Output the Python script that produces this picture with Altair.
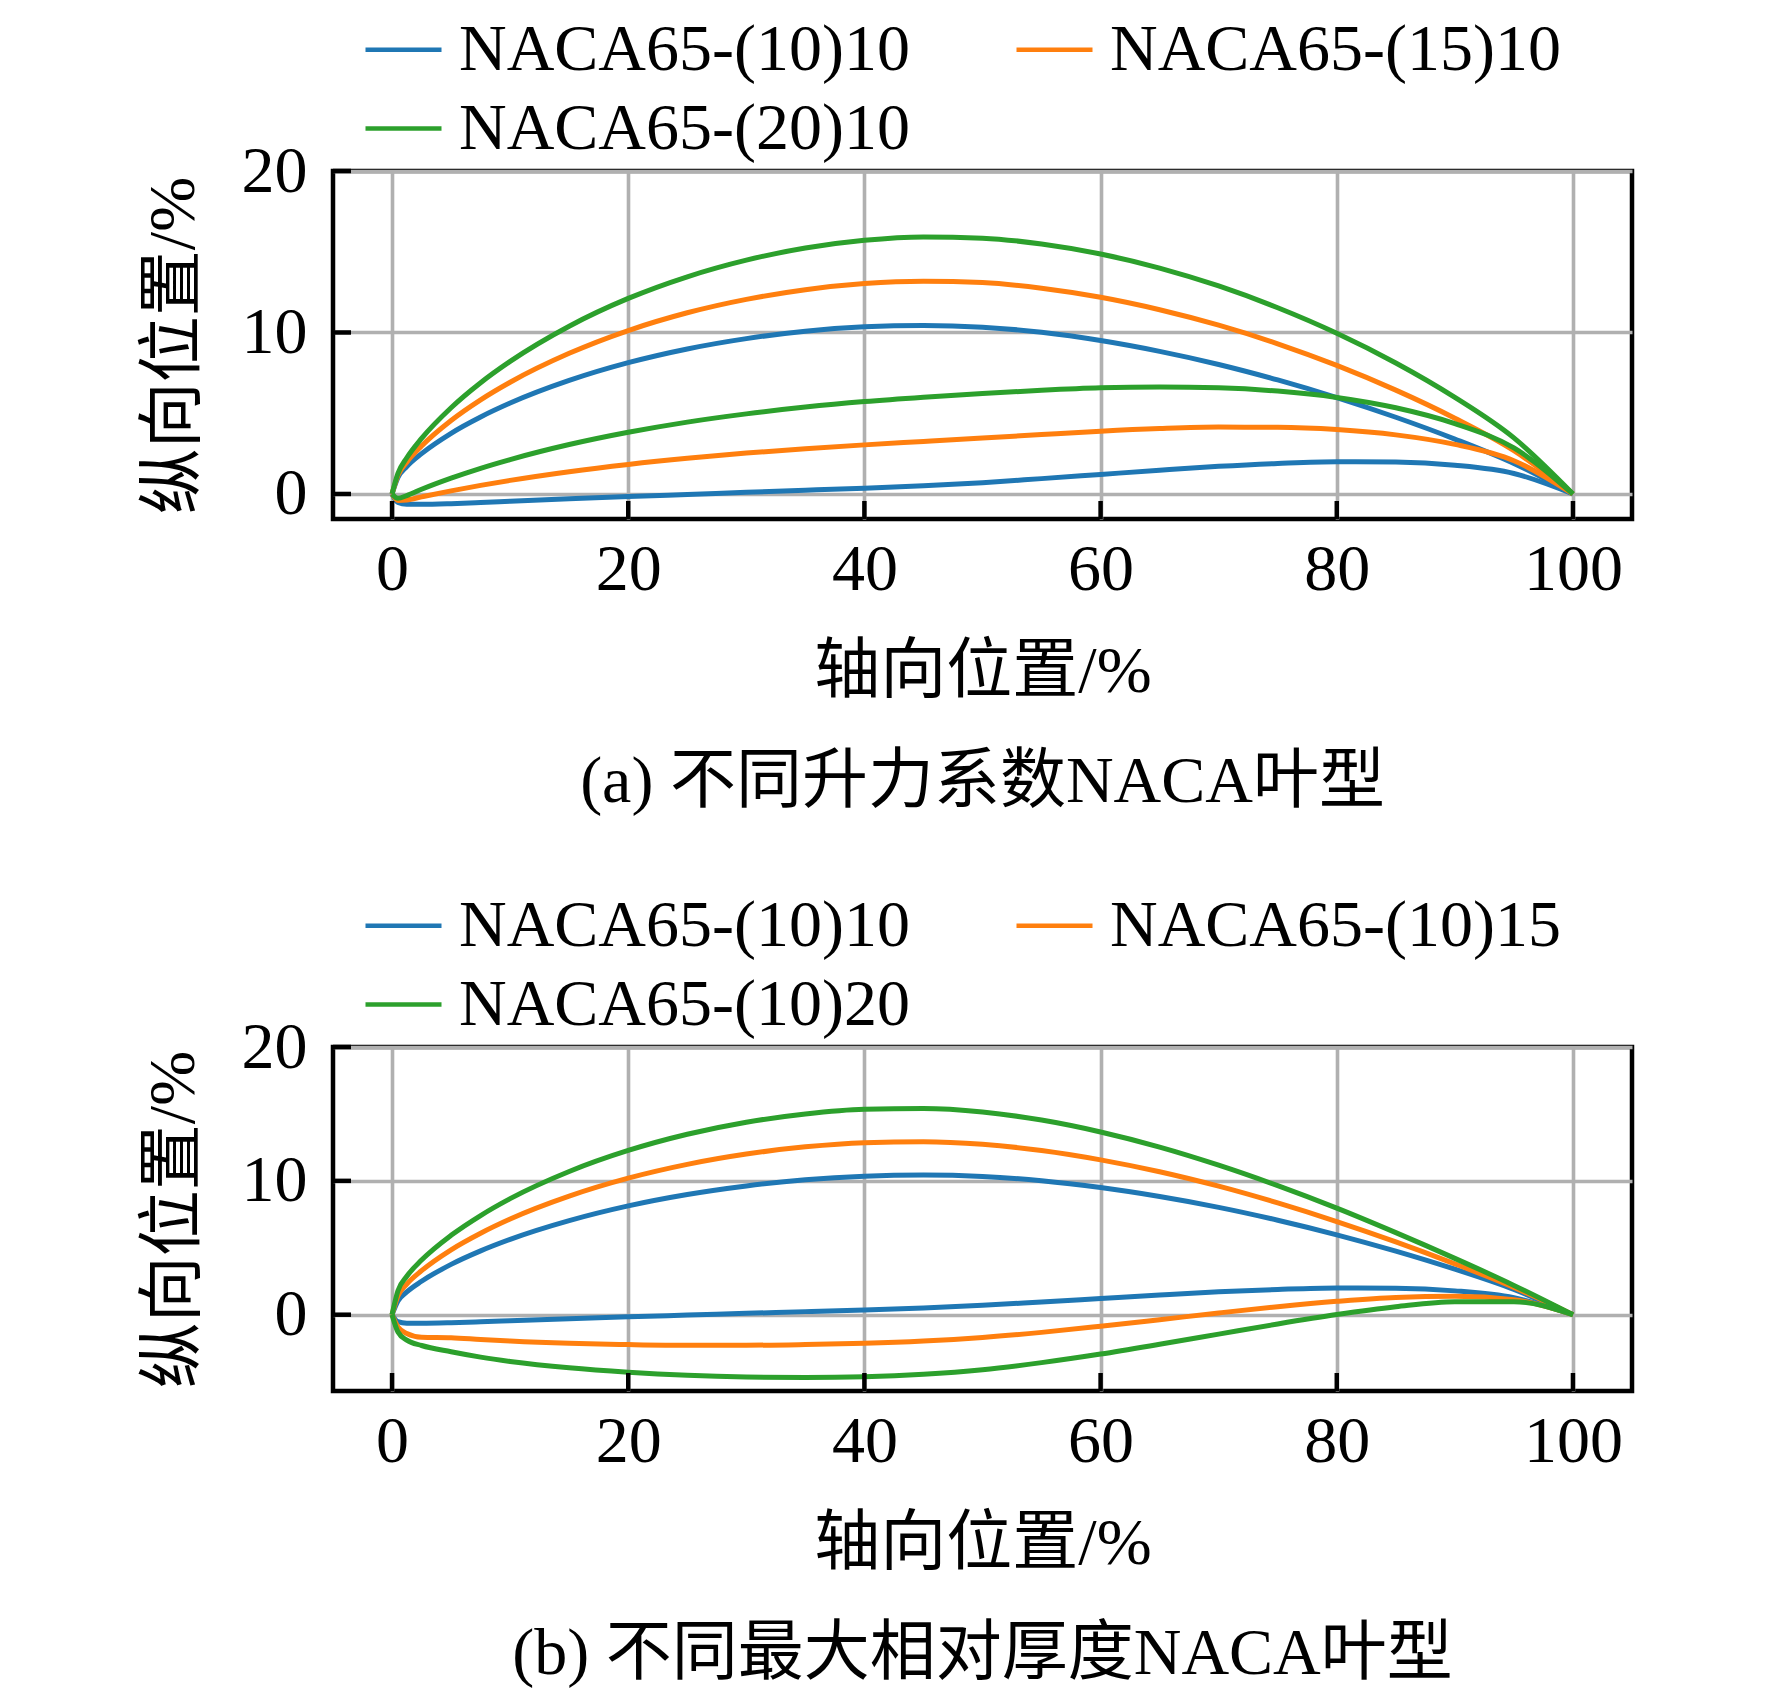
import altair as alt
import pandas as pd

# chord stations (%)
X = [0, 0.5, 1.25, 2.5, 5, 7.5, 10, 15, 20, 25, 30, 35, 40, 45, 50, 55,
     60, 65, 70, 75, 80, 85, 90, 95, 100]

# (a) different lift coefficient
a_up = [0, 1.02, 1.70, 2.50, 3.76, 4.77, 5.63, 7.03, 8.13, 8.98, 9.62, 10.08, 10.35,
        10.44, 10.33, 10.01, 9.50, 8.83, 8.02, 7.06, 5.97, 4.75, 3.40, 1.89, 0]
a_lo = [0, -0.52, -0.63, -0.64, -0.60, -0.53, -0.45, -0.30, -0.16, -0.03, 0.10, 0.23, 0.36,
        0.51, 0.70, 0.95, 1.21, 1.47, 1.71, 1.89, 2.00, 1.98, 1.78, 1.27, 0]
b_up = [0, 1.15, 1.97, 2.97, 4.55, 5.83, 6.92, 8.71, 10.12, 11.22, 12.05, 12.65, 13.03,
        13.18, 13.09, 12.74, 12.18, 11.41, 10.45, 9.30, 7.96, 6.43, 4.69, 2.68, 0]
b_lo = [0, -0.40, -0.37, -0.18, 0.19, 0.53, 0.84, 1.38, 1.83, 2.21, 2.53, 2.80, 3.04,
        3.25, 3.46, 3.68, 3.89, 4.05, 4.14, 4.13, 3.99, 3.66, 3.07, 2.06, 0]
c_up = [0, 1.27, 2.24, 3.44, 5.34, 6.89, 8.21, 10.39, 12.11, 13.45, 14.48, 15.23, 15.71,
        15.92, 15.84, 15.48, 14.86, 13.99, 12.88, 11.53, 9.95, 8.11, 5.98, 3.47, 0]
c_lo = [0, -0.27, -0.10, 0.29, 0.98, 1.59, 2.13, 3.06, 3.82, 4.45, 4.96, 5.38, 5.72,
        5.99, 6.22, 6.42, 6.57, 6.62, 6.57, 6.37, 5.98, 5.34, 4.36, 2.85, 0]

# (b) different max thickness
e_up = [0, 1.41, 2.29, 3.29, 4.85, 6.09, 7.15, 8.86, 10.20, 11.23, 12.00, 12.54, 12.85,
        12.92, 12.73, 12.27, 11.57, 10.68, 9.60, 8.35, 6.96, 5.44, 3.80, 2.04, 0]
e_lo = [0, -0.91, -1.40, -1.68, -1.72, -1.85, -1.97, -2.14, -2.23, -2.28, -2.28, -2.23, -2.14,
        -1.97, -1.70, -1.32, -0.86, -0.37, 0.13, 0.60, 1.00, 1.29, 1.37, 1.12, 0]
f_up = [0, 1.79, 2.87, 4.08, 5.93, 7.41, 8.67, 10.70, 12.27, 13.48, 14.38, 15.00, 15.35,
        15.40, 15.14, 14.54, 13.65, 12.52, 11.17, 9.64, 7.96, 6.13, 4.21, 2.19, 0]
f_lo = [0, -1.29, -1.90, -2.30, -2.77, -3.17, -3.49, -3.97, -4.30, -4.53, -4.66, -4.70, -4.64,
        -4.45, -4.11, -3.58, -2.94, -2.21, -1.45, -0.69, 0.01, 0.59, 0.97, 0.97, 0]

names_a = ["NACA65-(10)10", "NACA65-(15)10", "NACA65-(20)10"]
names_b = ["NACA65-(10)10", "NACA65-(10)15", "NACA65-(10)20"]
colors = ["#1f77b4", "#ff7f0e", "#2ca02c"]

x_ticks = [0, 20, 40, 60, 80, 100]
y_ticks = [0, 10, 20]

SERIF = "Liberation Serif, Noto Sans CJK SC"
FS = 66
W = 1299


def long_df(names, profiles):
    rows = []
    for name, (up, lo) in zip(names, profiles):
        for surf, ys in (("upper", up), ("lower", lo)):
            for x, y in zip(X, ys):
                rows.append({"x": x, "y": y, "name": name, "surface": surf})
    return pd.DataFrame(rows)


def panel(df, names, ymin, height, caption):
    xs = alt.Scale(domain=[-5, 105], nice=False, zero=False)
    ys = alt.Scale(domain=[ymin, 20], nice=False, zero=False)
    lines = alt.Chart(df).mark_line(strokeWidth=5, interpolate="monotone").encode(
        x=alt.X("x:Q", scale=xs, axis=alt.Axis(values=x_ticks, title="轴向位置/%")),
        y=alt.Y("y:Q", scale=ys, axis=alt.Axis(values=y_ticks, title="纵向位置/%")),
        color=alt.Color("name:N", sort=names,
                        scale=alt.Scale(domain=names, range=colors),
                        legend=alt.Legend(title=None, orient="none", legendX=30, legendY=-162,
                                          direction="horizontal",
                                          columns=2, columnPadding=97, rowPadding=5,
                                          symbolType="stroke", symbolSize=5776,
                                          symbolStrokeWidth=4.5, labelFont="Liberation Serif",
                                          labelFontSize=FS, labelLimit=0, labelOffset=15,
                                          labelColor="black")),
        detail="surface:N",
    )
    # inward ticks (bottom and left only)
    xt = alt.Chart(pd.DataFrame({"x": x_ticks})).mark_rule(color="black", strokeWidth=4.5).encode(
        x=alt.X("x:Q", scale=xs), y=alt.value(height), y2=alt.value(height - 18))
    yt = alt.Chart(pd.DataFrame({"y": y_ticks})).mark_rule(color="black", strokeWidth=4.5).encode(
        y=alt.Y("y:Q", scale=ys), x=alt.value(0), x2=alt.value(18))
    return alt.layer(lines, xt, yt).properties(
        width=W, height=height,
        title=alt.TitleParams(caption, orient="bottom", anchor="middle", frame="group",
                              font=SERIF, fontSize=FS, fontWeight="normal", color="black",
                              offset=46),
    )


top = panel(long_df(names_a, [(a_up, a_lo), (b_up, b_lo), (c_up, c_lo)]),
            names_a, -1.55, 348, "(a) 不同升力系数NACA叶型")
bottom = panel(long_df(names_b, [(a_up, a_lo), (e_up, e_lo), (f_up, f_lo)]),
               names_b, -5.7, 344, "(b) 不同最大相对厚度NACA叶型")

chart = alt.vconcat(top, bottom, spacing=64).resolve_scale(
    color="independent"
).properties(
    padding={"left": 129, "top": -2, "right": 10, "bottom": 10}
).configure_view(
    stroke="black", strokeWidth=4.5
).configure_axis(
    grid=True, gridColor="#b0b0b0", gridWidth=3.6, domain=False, ticks=False, tickSize=0,
    labelFont="Liberation Serif", labelFontSize=FS, labelColor="black", labelPadding=18,
    titleFont=SERIF, titleFontSize=FS, titleFontWeight="normal", titleColor="black",
).configure_axisX(
    titlePadding=37
).configure_axisY(
    labelPadding=26, titlePadding=34
)

chart.save("out.html", embed_options={"renderer": "svg", "actions": False})
